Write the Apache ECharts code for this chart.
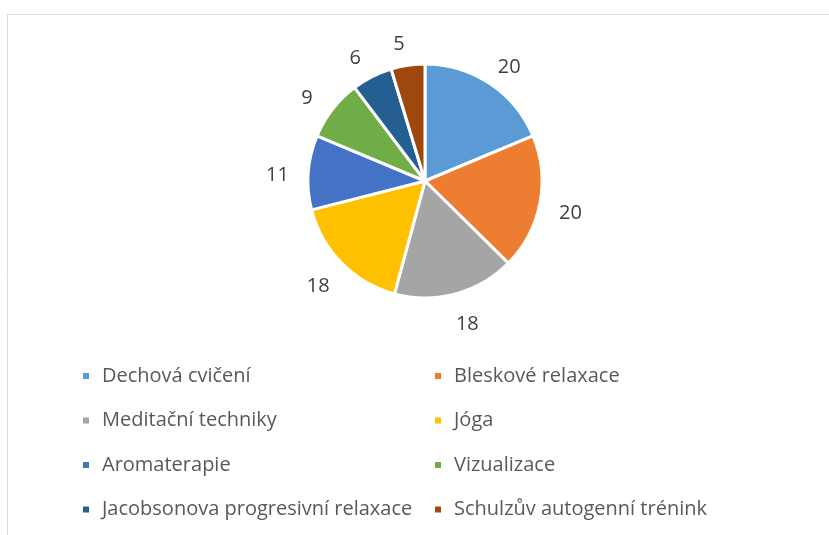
<!DOCTYPE html>
<html>
<head>
<meta charset="utf-8">
<script src="https://cdn.jsdelivr.net/npm/echarts@6/dist/echarts.min.js"></script>
<style>html,body{margin:0;padding:0;background:#fff;}#c{width:829px;height:535px;}</style>
</head>
<body>
<div id="c"></div>
<script>
const categories = ['Dechová cvičení','Bleskové relaxace','Meditační techniky','Jóga','Aromaterapie','Vizualizace','Jacobsonova progresivní relaxace','Schulzův autogenní trénink'];
const values = [20, 20, 18, 18, 11, 9, 6, 5];
const colors = ['#5B9BD5','#ED7D31','#A5A5A5','#FFC000','#4472C4','#70AD47','#255E91','#9E480E'];

const FONT = '"Open Sans"';
const chart = echarts.init(document.getElementById('c'));
const col1 = categories.filter((_, i) => i % 2 === 0);
const col2 = categories.filter((_, i) => i % 2 === 1);
const legendBase = {
  orient: 'vertical',
  icon: 'rect',
  itemWidth: 8,
  itemHeight: 8,
  itemGap: 24.5,
  padding: 0,
  selectedMode: false,
  textStyle: { fontFamily: FONT, fontSize: 20, color: '#595959', padding: [0,0,0,7] }
};
chart.setOption({
  animation: false,
  color: colors,
  graphic: [
    { type: 'rect', shape: { x: 7.5, y: 14.5, width: 900, height: 600 }, style: { fill: 'none', stroke: '#D9D9D9', lineWidth: 1 }, silent: true }
  ],
  legend: [
    Object.assign({}, legendBase, { data: col1, left: 81, top: 366 }),
    Object.assign({}, legendBase, { data: col2, left: 433, top: 366 })
  ],
  series: [{
    type: 'pie',
    center: [425, 181],
    radius: [0, 117],
    startAngle: 90,
    clockwise: true,
    avoidLabelOverlap: false,
    data: categories.map((n, i) => ({ name: n, value: values[i] })),
    itemStyle: { borderColor: '#fff', borderWidth: 3 },
    label: { show: true, position: 'outside', formatter: '{c}', fontFamily: FONT, fontSize: 20, color: '#404040' },
    labelLine: { show: false, length: 26, length2: 0 },
    labelLayout: function (p) {
      const w = p.labelRect.width;
      const cx = p.labelRect.x + w / 2;
      return { dx: cx > 425 ? -w / 2 : w / 2, dy: 5 };
    },
    emphasis: { disabled: true }
  }]
});
</script>
</body>
</html>
